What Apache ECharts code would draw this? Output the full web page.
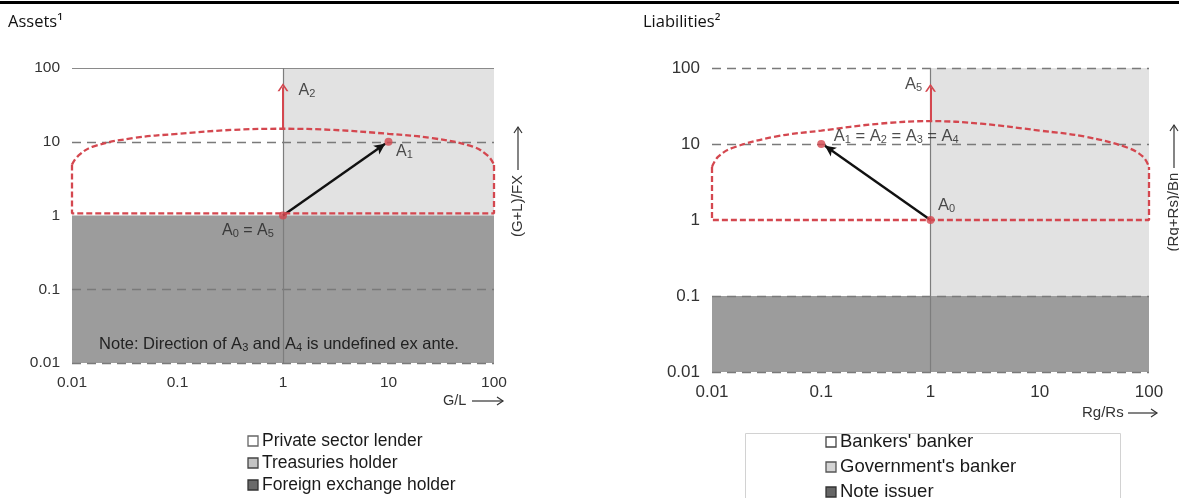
<!DOCTYPE html>
<html><head><meta charset="utf-8">
<script src="https://cdn.jsdelivr.net/npm/echarts@6/dist/echarts.min.js"></script>
<style>html,body{margin:0;padding:0;background:#fff}#c{width:1179px;height:498px}</style>
</head><body><div id="c"></div>
<script>
// ---------- data ----------
const tickValues = [0.01, 0.1, 1, 10, 100];
const tickLabels = ['0.01', '0.1', '1', '10', '100'];

// Assets panel
const assetRegionNames = ['Private sector lender', 'Treasuries holder', 'Foreign exchange holder'];
const assetRegionBounds = [[0.01, 1, 1, 100], [1, 1, 100, 100], [0.01, 0.01, 100, 1]]; // x0,y0,x1,y1
const assetDomeTop = [[0.01,4.9],[0.0114,6.4],[0.0158,8.6],[0.038,11.2],[0.1,12.8],[0.34,14.5],[1,15],[2.9,14.5],[10,12.8],[26,11.2],[63,8.6],[88,6.4],[100,4.9]];
const assetDomeBase = [[0.01,4.9],[0.01,1.07],[100,1.07],[100,4.9]];
const assetMove = [[1, 1], [9.3, 9.4]];    // A0 -> A1
const assetUp = [[1, 15], [1, 55]];        // A2
const assetPoints = [[1, 1], [10, 10]];
const assetDashedY = [10, 0.1, 0.01];
const assetSolidY = [100];

// Liabilities panel
const liabRegionNames = ["Bankers' banker", "Government's banker", 'Note issuer'];
const liabRegionBounds = [[0.01, 0.1, 1, 100], [1, 0.1, 100, 100], [0.01, 0.01, 100, 0.1]];
const liabDomeTop = [[0.01,5],[0.0114,6.8],[0.0158,9],[0.038,12.5],[0.1,15],[0.34,18.5],[1,20],[2.9,18.5],[10,15],[26,12.5],[63,9],[88,6.8],[100,5]];
const liabDomeBase = [[0.01,5],[0.01,1],[100,1],[100,5]];
const liabMove = [[1, 1], [0.108, 9.5]];   // A0 -> A1..A4
const liabUp = [[1, 20], [1, 55]];         // A5
const liabPoints = [[1, 1], [0.1, 10]];
const liabDashedY = [100, 10, 0.1, 0.01];

// ---------- styles ----------
const RED = '#d4474f';
const DARK = '#9c9c9c';
const LIGHT = '#e2e2e2';
const WHITE = '#ffffff';
const GRID = '#7a7a7a';
const FONT = '"Liberation Sans", Arial, sans-serif';
const TITLEFONT = '"Open Sans", "Noto Sans", sans-serif';
const CHEVRON = 'path://M0,10 L5,0 L10,10 L8.2,10 L5,3.6 L1.8,10 Z';
const regionColors = [WHITE, LIGHT, DARK];
const subRich = (fs) => ({
  s: {fontSize: Math.round(fs * 0.68), lineHeight: 10, verticalAlign: 'bottom', fontFamily: FONT, color: '#222'}
});

function fmtTick(v) {
  const i = tickValues.findIndex(t => Math.abs(Math.log10(t) - Math.log10(v)) < 1e-6);
  return i >= 0 ? tickLabels[i] : '';
}

function axes(gi, fs) {
  const common = {
    type: 'log', logBase: 10, min: 0.01, max: 100, gridIndex: gi,
    axisLine: {show: false}, axisTick: {show: false}, splitLine: {show: false},
    axisLabel: {formatter: fmtTick, color: '#333', fontFamily: FONT, fontSize: fs, margin: 12}
  };
  return {x: Object.assign({}, common), y: Object.assign({}, common)};
}

function panelSeries(gi, names, bounds, domeTop, domeBase, move, up, points, dashedY, solidY, labels) {
  const s = [];
  names.forEach((n, i) => {
    const b = bounds[i];
    s.push({
      type: 'line', name: n, xAxisIndex: gi, yAxisIndex: gi, data: [], z: 1,
      itemStyle: {color: regionColors[i]}, silent: true,
      markArea: {silent: true, itemStyle: {color: regionColors[i], opacity: 1},
        data: [[{coord: [b[0], b[1]]}, {coord: [b[2], b[3]]}]]}
    });
  });
  const lines = [];
  dashedY.forEach(v => lines.push({yAxis: v, lineStyle: {type: [9, 6], color: GRID, width: 1.3}}));
  solidY.forEach(v => lines.push({yAxis: v, lineStyle: {type: 'solid', color: '#8a8a8a', width: 1.2}}));
  lines.push({xAxis: 1, lineStyle: {type: 'solid', color: '#7d7d7d', width: 1.2}});
  s.push({
    type: 'line', xAxisIndex: gi, yAxisIndex: gi, data: [], z: 3, silent: true,
    markLine: {silent: true, symbol: 'none', label: {show: false}, animation: false, data: lines}
  });
  s.push({
    type: 'line', xAxisIndex: gi, yAxisIndex: gi, data: domeBase, z: 5, silent: true,
    showSymbol: false, symbol: 'none', lineStyle: {color: RED, width: 2.3, type: [6, 3]}
  });
  s.push({
    type: 'line', xAxisIndex: gi, yAxisIndex: gi, data: domeTop, z: 5, silent: true, smooth: 0.4,
    showSymbol: false, symbol: 'none', lineStyle: {color: RED, width: 2.3, type: [6, 3]}
  });
  s.push({
    type: 'line', xAxisIndex: gi, yAxisIndex: gi, data: [], z: 6, silent: true,
    markLine: {silent: true, animation: false, label: {show: false}, symbol: ['none', 'arrow'], symbolSize: 10,
      data: [
        [{coord: move[0], symbol: 'none', lineStyle: {color: '#111', width: 2.4, type: 'solid'}, itemStyle: {color: '#111'}},
         {coord: move[1], symbol: 'arrow', symbolSize: [8, 11], itemStyle: {color: '#111'}}],
        [{coord: up[0], symbol: 'none', lineStyle: {color: RED, width: 2, type: 'solid'}, itemStyle: {color: RED}},
         {coord: up[1], symbol: CHEVRON, symbolSize: [11, 8], itemStyle: {color: RED}}]
      ]}
  });
  s.push({
    type: 'scatter', xAxisIndex: gi, yAxisIndex: gi, data: points, z: 7, silent: true,
    symbolSize: 8, itemStyle: {color: RED}
  });
  s.push({
    type: 'scatter', xAxisIndex: gi, yAxisIndex: gi, z: 8, silent: true, symbolSize: 0,
    label: {show: true, position: 'inside', color: '#222', fontFamily: FONT, fontSize: labels.fs, lineHeight: 18, rich: subRich(labels.fs)},
    data: labels.items
  });
  return s;
}

const chart = echarts.init(document.getElementById('c'), null, {renderer: 'canvas'});
const a0 = axes(0, 15.5), a1 = axes(1, 17);

const series = [].concat(
  panelSeries(0, assetRegionNames, assetRegionBounds, assetDomeTop, assetDomeBase, assetMove, assetUp, assetPoints, assetDashedY, assetSolidY, {
    fs: 16,
    items: [
      {value: assetPoints[1], label: {formatter: 'A{s|1}', offset: [16, 10]}},
      {value: assetUp[1], label: {formatter: 'A{s|2}', offset: [24, 3]}},
      {value: assetPoints[0], label: {formatter: 'A{s|0} = A{s|5}', offset: [-35, 15]}}
    ]
  }),
  panelSeries(1, liabRegionNames, liabRegionBounds, liabDomeTop, liabDomeBase, liabMove, liabUp, liabPoints, liabDashedY, [], {
    fs: 16.5,
    items: [
      {value: liabUp[1], label: {formatter: 'A{s|5}', offset: [-17, -3]}},
      {value: liabPoints[1], label: {formatter: 'A{s|1} = A{s|2} = A{s|3} = A{s|4}', offset: [75, -8]}},
      {value: liabPoints[0], label: {formatter: 'A{s|0}', offset: [16, -15]}}
    ]
  })
);

// legends drawn as graphic squares + real text
function legendGraphic(names, x, ys, fills, strokes, fs) {
  const g = [];
  names.forEach((n, i) => {
    g.push({type: 'rect', x: x, y: ys[i] - 5, shape: {width: 10, height: 10}, style: {fill: fills[i], stroke: strokes[i], lineWidth: 1.3}});
    g.push({type: 'text', x: x + 14, y: ys[i], style: {text: n, fontFamily: FONT, fontSize: fs, fill: '#1a1a1a', verticalAlign: 'middle'}});
  });
  return g;
}
function arrowGraphic(x1, y1, x2, y2) {
  const g = [{type: 'line', shape: {x1: x1, y1: y1, x2: x2, y2: y2}, style: {stroke: '#333', lineWidth: 1.2}}];
  if (y1 === y2) {
    g.push({type: 'polyline', shape: {points: [[x2 - 6, y2 - 4], [x2, y2], [x2 - 6, y2 + 4]]}, style: {stroke: '#333', fill: 'none', lineWidth: 1.2}});
  } else {
    g.push({type: 'polyline', shape: {points: [[x2 - 4, y2 + 6], [x2, y2], [x2 + 4, y2 + 6]]}, style: {stroke: '#333', fill: 'none', lineWidth: 1.2}});
  }
  return g;
}

const graphics = [
  {type: 'rect', left: 0, top: 1, shape: {width: 1179, height: 3}, style: {fill: '#000'}, z: 100},
  {type: 'text', left: 8, top: 14, style: {text: 'Assets¹', fontFamily: TITLEFONT, fontSize: 16.5, fill: '#111'}},
  {type: 'text', left: 643, top: 14, style: {text: 'Liabilities²', fontFamily: TITLEFONT, fontSize: 16.5, fill: '#111'}},
  {type: 'text', x: 279, y: 344, z: 50, style: {
    text: 'Note: Direction of A{s|3} and A{s|4} is undefined ex ante.', fontFamily: FONT, fontSize: 16.5, lineHeight: 18,
    fill: '#222', align: 'center', verticalAlign: 'middle', rich: subRich(16.5)}},
  {type: 'text', x: 443, y: 401, style: {text: 'G/L', fontFamily: FONT, fontSize: 14.5, fill: '#333', verticalAlign: 'middle'}},
  {type: 'text', x: 1082, y: 413, style: {text: 'Rg/Rs', fontFamily: FONT, fontSize: 15, fill: '#333', verticalAlign: 'middle'}},
  {type: 'text', x: 518, y: 206, rotation: Math.PI / 2, style: {text: '(G+L)/FX', fontFamily: FONT, fontSize: 15, fill: '#333', align: 'center', verticalAlign: 'middle'}},
  {type: 'text', x: 1174, y: 212, rotation: Math.PI / 2, style: {text: '(Rg+Rs)/Bn', fontFamily: FONT, fontSize: 15, fill: '#333', align: 'center', verticalAlign: 'middle'}},
  {type: 'rect', left: 743, top: 431, shape: {width: 375, height: 80}, style: {fill: 'none', stroke: '#d2d2d2', lineWidth: 1}}
].concat(
  arrowGraphic(472, 401, 503, 401),
  arrowGraphic(1128, 413, 1157, 413),
  arrowGraphic(518, 170, 518, 127),
  arrowGraphic(1174, 168, 1174, 125),
  legendGraphic(assetRegionNames, 248, [441, 463, 485], ['#ffffff', '#c4c4c4', '#6a6a6a'], ['#666', '#444', '#333'], 17.5),
  legendGraphic(liabRegionNames, 826, [442, 467, 492], ['#ffffff', '#d4d4d4', '#666666'], ['#444', '#555', '#333'], 18.5)
);

chart.setOption({
  animation: false,
  backgroundColor: '#fff',
  grid: [
    {left: 72, top: 68, width: 422, height: 295},
    {left: 712, top: 68, width: 437, height: 304}
  ],
  xAxis: [a0.x, a1.x],
  yAxis: [a0.y, a1.y],
  series: series,
  graphic: graphics
});
</script>
</body></html>
